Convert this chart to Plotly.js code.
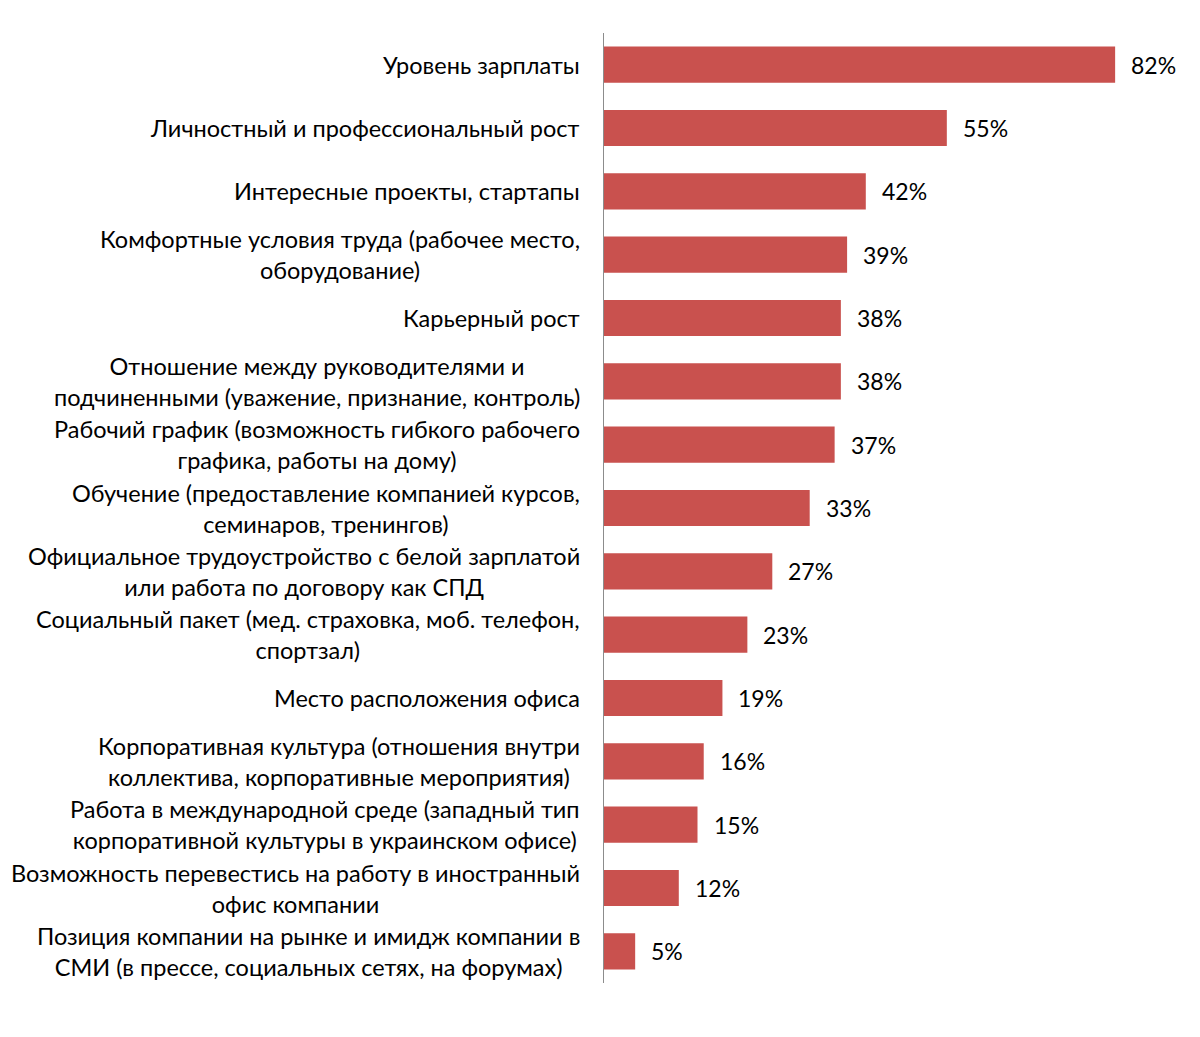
<!DOCTYPE html>
<html>
<head>
<meta charset="utf-8">
<script src="https://cdn.plot.ly/plotly-3.0.1.min.js"></script>
<style>html,body{margin:0;padding:0;background:#fff;}#chart{width:1200px;height:1037px;}</style>
</head>
<body>
<div id="chart"></div>
<script>
const categories = [
  "Уровень зарплаты",
  "Личностный и профессиональный рост",
  "Интересные проекты, стартапы",
  "Комфортные условия труда (рабочее место,<br>оборудование)",
  "Карьерный рост",
  "Отношение между руководителями и<br>подчиненными (уважение, признание, контроль)",
  "Рабочий график (возможность гибкого рабочего<br>графика, работы на дому)",
  "Обучение (предоставление компанией курсов,<br>семинаров, тренингов)",
  "Официальное трудоустройство с белой зарплатой<br>или работа по договору как СПД",
  "Социальный пакет (мед. страховка, моб. телефон,<br>спортзал)",
  "Место расположения офиса",
  "Корпоративная культура (отношения внутри<br>коллектива, корпоративные мероприятия)",
  "Работа в международной среде (западный тип<br>корпоративной культуры в украинском офисе)",
  "Возможность перевестись на работу в иностранный<br>офис компании",
  "Позиция компании на рынке и имидж компании в<br>СМИ (в прессе, социальных сетях, на форумах)"
];
const values = [82, 55, 42, 39, 38, 38, 37, 33, 27, 23, 19, 16, 15, 12, 5];
const valueLabels = values.map(v => v + "%");

const FONT = "Lato, 'Open Sans', sans-serif";

const trace = {
  type: "bar",
  orientation: "h",
  y: categories,
  x: values,
  marker: {color: "#C9514E", line: {width: 0}},
  hoverinfo: "none"
};

const valueAnns = categories.map((c, i) => ({
  x: values[i], y: c, xref: "x", yref: "y",
  text: valueLabels[i], showarrow: false,
  xanchor: "left", yanchor: "middle", xshift: 14,
  font: {family: FONT, size: 23, color: "#000"}
}));

const catAnns = categories.map((c) => ({
  x: 0, y: c, xref: "paper", yref: "y",
  text: c, showarrow: false, align: "center",
  xanchor: "right", yanchor: "middle", xshift: -22,
  font: {family: FONT, size: 23.5, color: "#000"}
}));

const layout = {
  width: 1200, height: 1037,
  margin: {l: 604, r: 35, t: 33, b: 54},
  paper_bgcolor: "#fff", plot_bgcolor: "#fff",
  showlegend: false,
  bargap: 0.43,
  font: {family: FONT, size: 23, color: "#000"},
  xaxis: {range: [0, 90], showgrid: false, zeroline: false, showticklabels: false, ticks: "", showline: false, fixedrange: true},
  yaxis: {autorange: "reversed", showgrid: false, zeroline: false, showline: true, linecolor: "#8c8c8c", linewidth: 1.5,
          ticks: "", showticklabels: false, fixedrange: true},
  annotations: catAnns.concat(valueAnns)
};

Plotly.newPlot("chart", [trace], layout, {displayModeBar: false, staticPlot: true});
</script>
</body>
</html>
